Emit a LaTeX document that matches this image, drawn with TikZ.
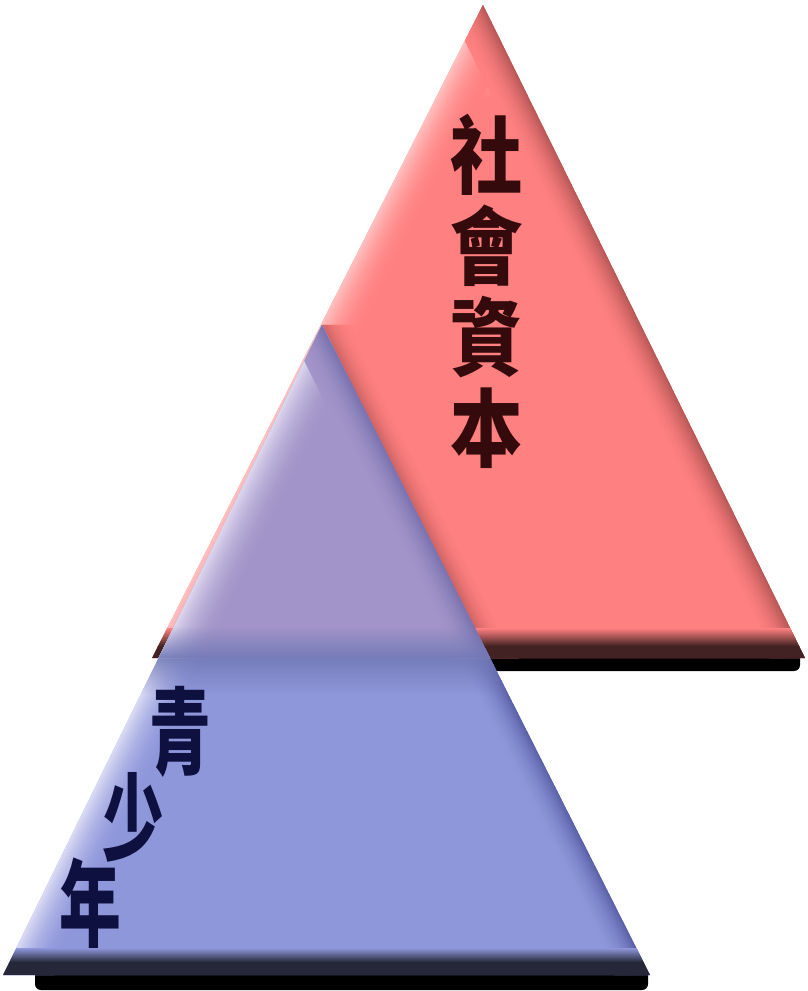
\documentclass[tikz,border=0pt]{standalone}
\usepackage{fontspec}
\usetikzlibrary{calc, fadings}
\newfontfamily\cjkfont{Noto Sans CJK TC}
\definecolor{capred}{RGB}{255,128,128}
\definecolor{capredlight}{RGB}{255,192,192}
\definecolor{capreddark}{RGB}{185,88,88}
\definecolor{capredbottom}{RGB}{66,34,34}
\definecolor{youthblue}{RGB}{143,151,219}
\definecolor{youthbluelight}{RGB}{218,219,244}
\definecolor{youthbluedark}{RGB}{92,98,168}
\definecolor{youthbluebottom}{RGB}{38,40,58}
\definecolor{mixpurple}{RGB}{162,148,200}
\definecolor{mixpurplelight}{RGB}{220,214,238}
\definecolor{mixpurpledark}{RGB}{122,115,176}
\definecolor{mixslate}{RGB}{112,120,182}
\definecolor{capink}{RGB}{52,10,12}
\definecolor{youthink}{RGB}{14,16,64}
\tikzfading[name=rimdown, top color=transparent!0, bottom color=transparent!100]
\tikzfading[name=rimup, top color=transparent!100, bottom color=transparent!0]

\begin{document}
\begin{tikzpicture}[x=1pt, y=1pt,
    redtxt/.style={text=capink, font=\cjkfont\bfseries\fontsize{85}{91}\selectfont,
      xscale=0.85, align=center, inner sep=0pt},
    bluetxt/.style={text=youthink, font=\cjkfont\bfseries\fontsize{95}{95}\selectfont,
      xscale=0.65, inner sep=0pt},
    bevel/.style={line width=1.6pt}]
    \useasboundingbox (0,0) rectangle (807,-991);

    % Corners of the two triangles
    \coordinate (redtop) at (483,-5);
    \coordinate (redleft) at (152,-658);
    \coordinate (redright) at (805,-658);
    \coordinate (bluetop) at (322,-325);
    \coordinate (blueleft) at (3,-975);
    \coordinate (blueright) at (650,-975);

    % Shadows under the bases
    \fill[black, rounded corners=6] (300,-650) rectangle (800,-671);
    \fill[black, rounded corners=6] (35,-968) rectangle (648,-990);

    % Red triangle
    \fill[capred] (redtop) -- (redleft) -- (redright) -- cycle;
    \begin{scope}
        \clip (redtop) -- (redleft) -- (redright) -- cycle;
        \shade[inner color=capredlight, outer color=capred] (480,-20) circle (80);
        \foreach \i [evaluate=\i as \p using {int(100*(1-\i/45)^2)}] in {45,44,...,0}
            \draw[bevel, capredlight!\p!capred] ($(redleft)+(\i,0)$) -- ($(redtop)+(\i,0)$);
        \foreach \i [evaluate=\i as \p using {int(100*(1-\i/35)^2)}] in {35,34,...,0}
            \draw[bevel, capreddark!\p!capred] ($(redright)-(\i,0)$) -- ($(redtop)-(\i,0)$);
        % blue triangle casts a soft shadow on the red one
        \foreach \i [evaluate=\i as \p using {int(70*(1-\i/28)^2)}] in {28,27,...,0}
            \draw[bevel, capreddark!\p!capred] ($(blueright)+(\i,0)$) -- ($(bluetop)+(\i,0)$);
        % dark rim at the base
        \shade[top color=capred, bottom color=capredbottom] (100,-628) rectangle (810,-646);
        \fill[capredbottom] (100,-646) rectangle (810,-660);
    \end{scope}

    % Blue triangle
    \fill[youthblue] (bluetop) -- (blueleft) -- (blueright) -- cycle;
    \begin{scope}
        \clip (bluetop) -- (blueleft) -- (blueright) -- cycle;
        \foreach \i [evaluate=\i as \p using {int(100*(1-\i/50)^2)}] in {50,49,...,0}
            \draw[bevel, youthbluelight!\p!youthblue] ($(blueleft)+(\i,0)$) -- ($(bluetop)+(\i,0)$);
        \foreach \i [evaluate=\i as \p using {int(100*(1-\i/35)^2)}] in {35,34,...,0}
            \draw[bevel, youthbluedark!\p!youthblue] ($(blueright)-(\i,0)$) -- ($(bluetop)-(\i,0)$);
        % the red base darkens the blue just below it
        \fill[mixslate, path fading=rimdown, fill opacity=0.85] (0,-658) rectangle (810,-694);
        \shade[top color=youthblue, bottom color=youthbluebottom] (0,-948) rectangle (810,-962);
        \fill[youthbluebottom] (0,-962) rectangle (810,-976);
    \end{scope}

    % Overlap of the two
    \begin{scope}
        \clip (redtop) -- (redleft) -- (redright) -- cycle;
        \clip (bluetop) -- (blueleft) -- (blueright) -- cycle;
        \fill[mixpurple] (0,0) rectangle (807,-991);
        \foreach \i [evaluate=\i as \p using {int(100*(1-\i/50)^2)}] in {50,49,...,0}
            \draw[bevel, mixpurplelight!\p!mixpurple] ($(blueleft)+(\i,0)$) -- ($(bluetop)+(\i,0)$);
        \foreach \i [evaluate=\i as \p using {int(100*(1-\i/35)^2)}] in {35,34,...,0}
            \draw[bevel, mixpurpledark!\p!mixpurple] ($(blueright)-(\i,0)$) -- ($(bluetop)-(\i,0)$);
        \fill[mixslate, path fading=rimup, fill opacity=0.9] (0,-626) rectangle (810,-658.5);
    \end{scope}

    % Labels
    \node[redtxt] (captitle) at (487,-291) {社\\會\\資\\本};
    \node[bluetxt] (youthA) at (180,-732) {青};
    \node[bluetxt] (youthB) at (133,-817) {少};
    \node[bluetxt] (youthC) at (90,-903) {年};
\end{tikzpicture}
\end{document}
